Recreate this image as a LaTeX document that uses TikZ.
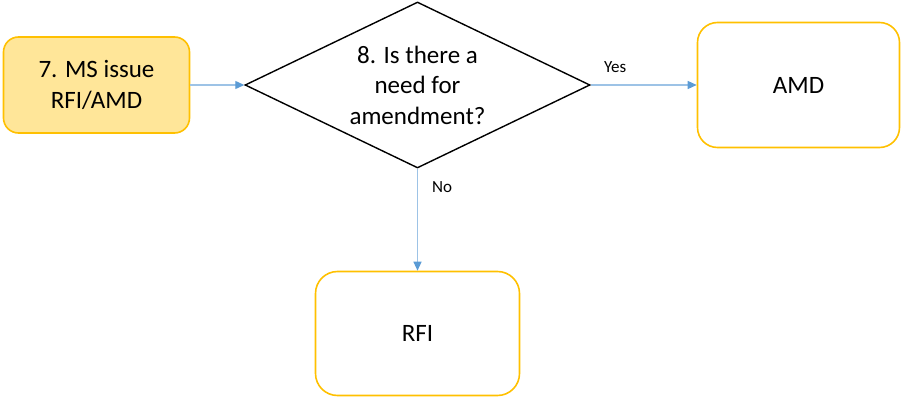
\documentclass[tikz,border=0pt]{standalone}
\usepackage{fontspec}
\setmainfont{Carlito}
\usetikzlibrary{shapes.geometric,arrows.meta,positioning}
\definecolor{boxgold}{HTML}{FFC000}
\definecolor{boxfill}{HTML}{FFE699}
\definecolor{flowblue}{HTML}{5B9BD5}
\definecolor{flowline}{HTML}{9DC3E6}

\tikzset{process/.style={draw=boxgold, line width=1.6pt, rounded corners=20pt, align=center},
         decision/.style={draw, diamond, aspect=2.08, line width=1.4pt, inner sep=0pt, align=center},
         flow/.style={draw=flowline, line width=1.2pt,
           -{Triangle[length=9pt, width=8pt, color=flowblue]}},
         answer/.style={font=\fontsize{17}{20}\selectfont, inner sep=2pt}}

\begin{document}
\begin{tikzpicture}[
    x = 1pt, y = -1pt,
    every node/.style = {font = \fontsize{25}{30.5}\selectfont}
  ]
  \useasboundingbox (0,0) rectangle (901,398);
  \node[process, fill=boxfill, rounded corners=15pt,
    minimum width=186pt, minimum height=96pt] (Issue) at (96.5,85) {7. MS issue\\RFI/AMD};
  \node[decision, minimum width=345pt, minimum height=166pt] (Need) at (417.5,85)
    {8. Is there a\\need for\\amendment?};
  \node[process, minimum width=202pt, minimum height=125pt] (Amd) at (798.5,85) {AMD};
  \node[process, rounded corners=22pt,
    minimum width=204pt, minimum height=124pt] (Rfi) at (417.5,333.5) {RFI};

  % connectors
  \draw[flow] (Issue) -- (Need);
  \draw[flow] (Need) -- node[answer, above=10pt, pos=0.23] (Yes) {Yes} (Amd);
  \draw[flow] (Need) -- node[answer, right=12pt, pos=0.18] (No) {No} (Rfi);
\end{tikzpicture}
\end{document}
